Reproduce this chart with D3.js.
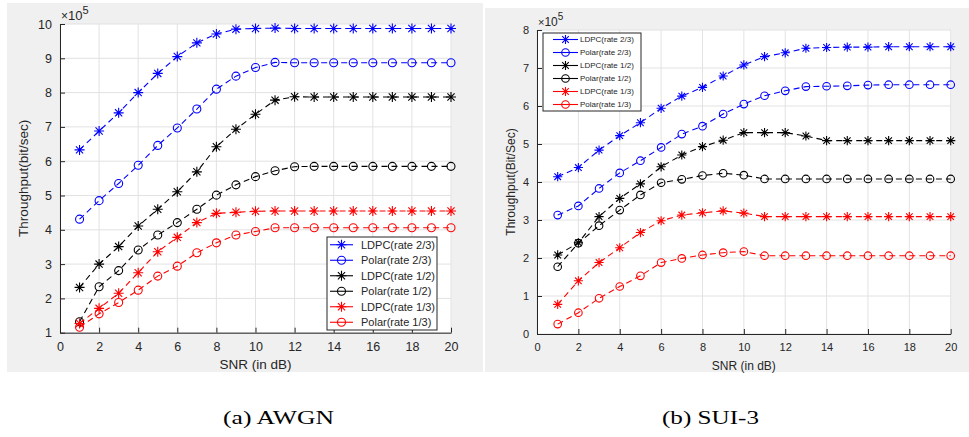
<!DOCTYPE html>
<html>
<head>
<meta charset="utf-8">
<script src="https://cdn.jsdelivr.net/npm/d3@7"></script>
<style>
    body { margin: 0; background: #fff; }
    svg text { font-family: "Liberation Sans", Arial, Helvetica, sans-serif; fill: #262626; }
    .caption { font-family: "Liberation Serif", "Times New Roman", serif; fill: #000; }
</style>
</head>
<body>
<svg id="chart" width="969" height="437"></svg>
<script>
// Throughput vs SNR, LDPC vs Polar codes (values in units of 10^5 bit/sec)

const snr = d3.range(1, 21);

const seriesNames = ["LDPC(rate 2/3)", "Polar(rate 2/3)", "LDPC(rate 1/2)", "Polar(rate 1/2)", "LDPC(rate 1/3)", "Polar(rate 1/3)"];
const seriesColors = ["#0000ff", "#0000ff", "#000000", "#000000", "#ff0000", "#ff0000"];
const seriesMarkers = ["star", "circle", "star", "circle", "star", "circle"];

// (a) AWGN
const awgnLdpc23  = [6.33, 6.88, 7.41, 8.00, 8.56, 9.05, 9.45, 9.71, 9.85, 9.87, 9.88, 9.87, 9.87, 9.87, 9.87, 9.87, 9.87, 9.87, 9.87, 9.87];
const awgnPolar23 = [4.31, 4.85, 5.35, 5.88, 6.46, 6.97, 7.52, 8.10, 8.48, 8.73, 8.88, 8.87, 8.87, 8.87, 8.87, 8.87, 8.87, 8.87, 8.87, 8.87];
const awgnLdpc12  = [2.32, 3.00, 3.51, 4.11, 4.60, 5.11, 5.69, 6.42, 6.93, 7.37, 7.78, 7.88, 7.87, 7.87, 7.87, 7.87, 7.87, 7.87, 7.87, 7.87];
const awgnPolar12 = [1.32, 2.34, 2.81, 3.41, 3.85, 4.21, 4.60, 5.01, 5.31, 5.55, 5.72, 5.84, 5.85, 5.85, 5.85, 5.85, 5.85, 5.85, 5.85, 5.85];
const awgnLdpc13  = [1.27, 1.71, 2.15, 2.75, 3.36, 3.78, 4.21, 4.48, 4.51, 4.54, 4.55, 4.55, 4.55, 4.55, 4.55, 4.55, 4.55, 4.55, 4.55, 4.55];
const awgnPolar13 = [1.16, 1.55, 1.88, 2.24, 2.65, 2.94, 3.33, 3.62, 3.85, 3.95, 4.06, 4.06, 4.06, 4.06, 4.06, 4.06, 4.06, 4.06, 4.06, 4.06];

// (b) SUI-3
const suiLdpc23  = [4.14, 4.38, 4.84, 5.22, 5.56, 5.94, 6.26, 6.49, 6.79, 7.08, 7.30, 7.40, 7.52, 7.54, 7.55, 7.55, 7.56, 7.56, 7.56, 7.56];
const suiPolar23 = [3.13, 3.37, 3.83, 4.24, 4.56, 4.91, 5.26, 5.47, 5.79, 6.05, 6.27, 6.40, 6.51, 6.52, 6.53, 6.55, 6.56, 6.56, 6.56, 6.56];
const suiLdpc12  = [2.08, 2.40, 3.09, 3.57, 3.95, 4.40, 4.71, 4.93, 5.10, 5.30, 5.30, 5.30, 5.21, 5.09, 5.09, 5.09, 5.09, 5.09, 5.09, 5.09];
const suiPolar12 = [1.77, 2.39, 2.85, 3.26, 3.66, 3.98, 4.07, 4.17, 4.23, 4.18, 4.08, 4.08, 4.08, 4.08, 4.08, 4.08, 4.08, 4.08, 4.08, 4.08];
const suiLdpc13  = [0.78, 1.40, 1.88, 2.27, 2.67, 2.98, 3.13, 3.19, 3.24, 3.18, 3.09, 3.09, 3.09, 3.09, 3.09, 3.09, 3.09, 3.09, 3.09, 3.09];
const suiPolar13 = [0.26, 0.56, 0.94, 1.25, 1.53, 1.88, 1.99, 2.08, 2.14, 2.17, 2.06, 2.06, 2.06, 2.06, 2.06, 2.06, 2.06, 2.06, 2.06, 2.06];

const xTicks = d3.range(0, 21, 2);
const awgnYTicks = d3.range(1, 11);
const suiYTicks = d3.range(0, 9);

const svg = d3.select("#chart");

const panels = [
    {
        bg: [7, 3, 483, 372], plot: [60, 24, 451, 332.7], yDomain: [1, 10], yTicks: awgnYTicks,
        series: [awgnLdpc23, awgnPolar23, awgnLdpc12, awgnPolar12, awgnLdpc13, awgnPolar13],
        yLabel: "Throughput(bit/sec)", yLabelX: 28, xLabelY: 369,
        tickFont: 12.5, labelFont: 13.5, expFont: 13, markR: 4, starR: 5,
        legend: { x: 327, y: 237, w: 110, h: 93, font: 11, l0: 3, l1: 26, tx: 34 },
        caption: "(a) AWGN", captionX: 223, captionW: 111
    },
    {
        bg: [485, 8, 969, 372], plot: [537, 30, 950.7, 334], yDomain: [0, 8], yTicks: suiYTicks,
        series: [suiLdpc23, suiPolar23, suiLdpc12, suiPolar12, suiLdpc13, suiPolar13],
        yLabel: "Throughput(Bit/Sec)", yLabelX: 515, xLabelY: 370,
        tickFont: 11, labelFont: 12, expFont: 12, markR: 3.8, starR: 4.6,
        legend: { x: 543, y: 33, w: 98, h: 78, font: 8, l0: 10, l1: 35, tx: 37 },
        caption: "(b) SUI-3", captionX: 662, captionW: 97
    }
];

function drawMarker(g, type, x, y, r, color) {
    if (type === "circle") {
        g.append("circle").attr("cx", x).attr("cy", y).attr("r", r)
            .attr("fill", "none").attr("stroke", color).attr("stroke-width", 1.1);
    } else {
        const d = r * 0.72;
        const p = `M${x - r},${y}H${x + r}M${x},${y - r}V${y + r}` +
            `M${x - d},${y - d}L${x + d},${y + d}M${x - d},${y + d}L${x + d},${y - d}`;
        g.append("path").attr("d", p).attr("stroke", color).attr("stroke-width", 1.1).attr("fill", "none");
    }
}

panels.forEach(cfg => {
    const [bx0, by0, bx1, by1] = cfg.bg;
    const [px0, py0, px1, py1] = cfg.plot;

    svg.append("rect").attr("x", bx0).attr("y", by0)
        .attr("width", bx1 - bx0).attr("height", by1 - by0).attr("fill", "#f0f0f0");
    svg.append("rect").attr("x", px0).attr("y", py0)
        .attr("width", px1 - px0).attr("height", py1 - py0).attr("fill", "#fff");

    const x = d3.scaleLinear().domain([0, 20]).range([px0, px1]);
    const y = d3.scaleLinear().domain(cfg.yDomain).range([py1, py0]);

    // grid
    const grid = svg.append("g").attr("stroke", "#e2e2e2").attr("stroke-width", 1);
    xTicks.forEach(t => grid.append("line").attr("x1", x(t)).attr("x2", x(t)).attr("y1", py0).attr("y2", py1));
    cfg.yTicks.forEach(t => grid.append("line").attr("x1", px0).attr("x2", px1).attr("y1", y(t)).attr("y2", y(t)));

    // axes, ticks pointing inward
    const xAxis = svg.append("g").attr("transform", `translate(0,${py1})`)
        .call(d3.axisBottom(x).tickValues(xTicks).tickSizeInner(-5).tickSizeOuter(0).tickPadding(9));
    const yAxis = svg.append("g").attr("transform", `translate(${px0},0)`)
        .call(d3.axisLeft(y).tickValues(cfg.yTicks).tickSizeInner(-5).tickSizeOuter(0).tickPadding(8));
    [xAxis, yAxis].forEach(a => {
        a.select(".domain").attr("stroke", "#262626");
        a.selectAll(".tick line").attr("stroke", "#262626");
        a.selectAll(".tick text").attr("fill", "#262626").style("font-size", cfg.tickFont + "px")
            .style("font-family", "'Liberation Sans', Arial, sans-serif");
    });

    // exponent label
    const ex = svg.append("text").attr("x", px0 + 1).attr("y", py0 - 4).style("font-size", cfg.expFont + "px");
    ex.append("tspan").text("\u00d7").style("font-size", (cfg.expFont - 1) + "px");
    ex.append("tspan").text("10");
    ex.append("tspan").text("5").attr("dy", -6).style("font-size", (cfg.expFont - 2) + "px");

    // axis labels
    svg.append("text").attr("x", (px0 + px1) / 2).attr("y", cfg.xLabelY)
        .attr("text-anchor", "middle").style("font-size", cfg.labelFont + "px").text("SNR (in dB)");
    svg.append("text").attr("transform", `translate(${cfg.yLabelX},${(py0 + py1) / 2}) rotate(-90)`)
        .attr("text-anchor", "middle").style("font-size", cfg.labelFont + "px").text(cfg.yLabel);

    // series
    const line = d3.line().x((d, i) => x(snr[i])).y(d => y(d));
    cfg.series.forEach((vals, s) => {
        svg.append("path").datum(vals).attr("d", line)
            .attr("fill", "none").attr("stroke", seriesColors[s])
            .attr("stroke-width", 1.1).attr("stroke-dasharray", "6,4");
        const mg = svg.append("g");
        vals.forEach((v, i) => drawMarker(mg, seriesMarkers[s], x(snr[i]), y(v),
            seriesMarkers[s] === "circle" ? cfg.markR : cfg.starR, seriesColors[s]));
    });

    // legend
    const L = cfg.legend;
    const lg = svg.append("g");
    lg.append("rect").attr("x", L.x).attr("y", L.y).attr("width", L.w).attr("height", L.h)
        .attr("fill", "#fff").attr("stroke", "#262626").attr("stroke-width", 1);
    const rowH = L.h / seriesNames.length;
    seriesNames.forEach((name, s) => {
        const cy = L.y + rowH * (s + 0.5);
        lg.append("line").attr("x1", L.x + L.l0).attr("x2", L.x + L.l1)
            .attr("y1", cy).attr("y2", cy).attr("stroke", seriesColors[s]).attr("stroke-width", 1.1);
        drawMarker(lg, seriesMarkers[s], L.x + (L.l0 + L.l1) / 2, cy,
            seriesMarkers[s] === "circle" ? cfg.markR : cfg.starR, seriesColors[s]);
        lg.append("text").attr("x", L.x + L.tx).attr("y", cy).attr("dy", "0.35em")
            .style("font-size", L.font + "px").attr("fill", "#000").text(name);
    });

    // caption
    svg.append("text").attr("class", "caption").attr("x", cfg.captionX).attr("y", 424)
        .attr("textLength", cfg.captionW).attr("lengthAdjust", "spacingAndGlyphs")
        .style("font-size", "18px").text(cfg.caption);
});
</script>
</body>
</html>
